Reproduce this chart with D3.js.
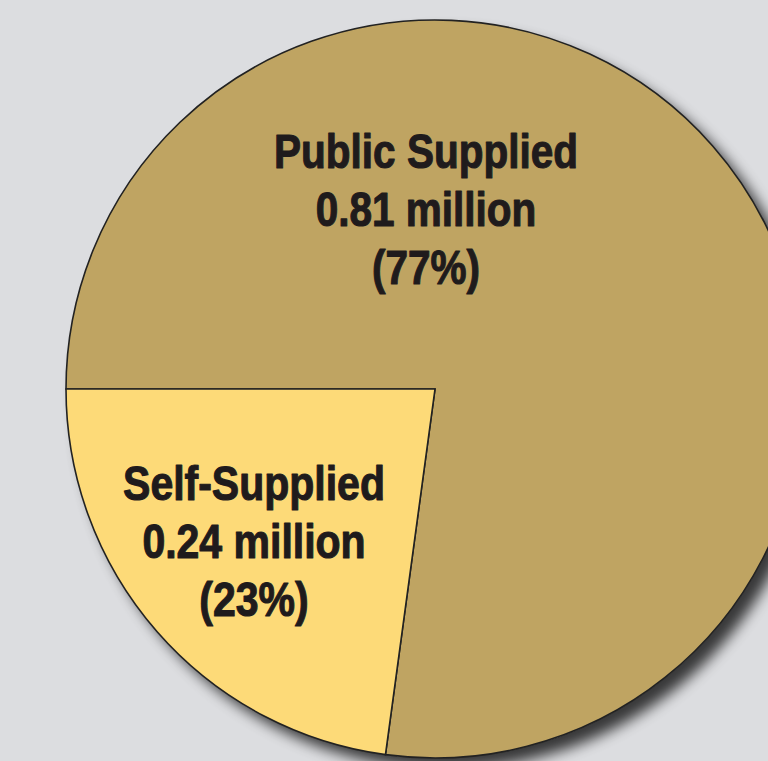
<!DOCTYPE html>
<html><head><meta charset="utf-8">
<script src="https://cdn.jsdelivr.net/npm/d3@7"></script>
<style>html,body{margin:0;padding:0;background:#dcdde0;overflow:hidden}</style>
</head><body>
<svg id="c" width="768" height="761"></svg>
<script>
const categories = ["Public Supplied", "Self-Supplied"];
const values = [0.81, 0.24];
const percents = ["77%", "23%"];
const colors = ["#bfa462", "#fdda78"];

const svg = d3.select("#c");
const cx = 435, cy = 389, r = 369;
const defs = svg.append("defs");
const f = defs.append("filter").attr("id","sh").attr("x","-20%").attr("y","-20%").attr("width","150%").attr("height","150%");
f.append("feGaussianBlur").attr("in","SourceAlpha").attr("stdDeviation",7).attr("result","b");
f.append("feOffset").attr("in","b").attr("dx",11).attr("dy",11).attr("result","o");
f.append("feComponentTransfer").attr("in","o").attr("result","o2")
  .append("feFuncA").attr("type","linear").attr("slope",0.75);
const m = f.append("feMerge");
m.append("feMergeNode").attr("in","o2");
m.append("feMergeNode").attr("in","SourceGraphic");

const data = categories.map((c,i)=>({c, v:values[i], p:percents[i], col:colors[i]}));
const pie = d3.pie().value(d=>d.v).sort(null).startAngle(-Math.PI/2).endAngle(1.5*Math.PI);
const arcs = pie(data);
const arc = d3.arc().innerRadius(0).outerRadius(r);
const g = svg.append("g").attr("transform",`translate(${cx},${cy})`);
g.append("circle").attr("r",r).attr("fill","#8a898e").attr("filter","url(#sh)");
g.selectAll("path").data(arcs).join("path")
  .attr("d",arc).attr("fill",d=>d.data.col)
  .attr("stroke","#222").attr("stroke-width",1.6).attr("stroke-linejoin","miter");

const labelPos = [[426-cx,168-cy],[254-cx,500-cy]];
const targetW = [304, 262];
const outer = g.selectAll("g.l").data(arcs).join("g").attr("class","l")
  .attr("transform",(d,i)=>`translate(${labelPos[i][0]},${labelPos[i][1]})`);
const t = outer.append("text")
  .attr("text-anchor","middle")
  .attr("font-family","'Liberation Sans',Arial,sans-serif")
  .attr("font-weight","bold").attr("font-size",48).attr("fill","#1f1b1c")
  .attr("stroke","#1f1b1c").attr("stroke-width",1.1).attr("stroke-linejoin","round");
t.each(function(d,i){
  const s = d3.select(this);
  const lines = [d.data.c, d.data.v.toFixed(2)+" million", "("+d.data.p+")"];
  const spans = lines.map((line,k)=> s.append("tspan").attr("x",0).attr("y",k*58).text(line));
  const w = spans[0].node().getComputedTextLength();
  s.attr("transform",`scale(${targetW[i]/w},1)`);
});
</script>
</body></html>
